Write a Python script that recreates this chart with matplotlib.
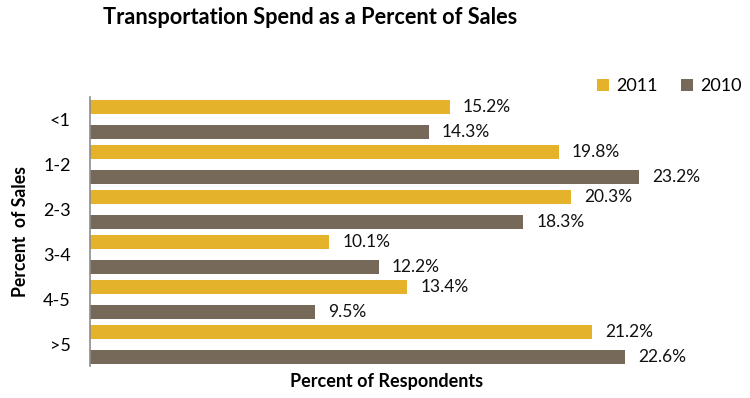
import matplotlib
matplotlib.use("Agg")
import matplotlib.pyplot as plt
import numpy as np
from matplotlib.patches import Patch

categories = ["<1", "1-2", "2-3", "3-4", "4-5", ">5"]
values_2011 = [15.2, 19.8, 20.3, 10.1, 13.4, 21.2]
values_2010 = [14.3, 23.2, 18.3, 12.2, 9.5, 22.6]

GOLD = "#E5B22B"
BROWN = "#776959"
FONT = ["Lato", "DejaVu Sans"]

plt.rcParams["font.family"] = FONT

fig = plt.figure(figsize=(7.5, 3.98), dpi=100)
# axes box in pixels: x 90..730, y 97..366 (from top)
ax = fig.add_axes([90 / 750, 1 - 366 / 398, 640 / 750, 269 / 398])

y = np.arange(len(categories))
off = 25 / 45
h = 14 / 45
ax.barh(y, values_2011, height=h, color=GOLD, label="2011")
ax.barh(y + off, values_2010, height=h, color=BROWN, label="2010")

for yi, v in zip(y, values_2011):
    ax.text(v + 0.55, yi, f"{v:.1f}%", va="center", ha="left", fontsize=12.5, color="#111111")
for yi, v in zip(y + off, values_2010):
    ax.text(v + 0.55, yi, f"{v:.1f}%", va="center", ha="left", fontsize=12.5, color="#111111")

ax.set_xlim(0, 640 / 23.68)
ax.set_ylim(5 + off + (366 - 357) / 45, -10 / 45)
ax.set_yticks(y + off / 2)
ax.set_yticklabels(categories, fontsize=13)
ax.tick_params(axis="y", length=0, pad=14)
ax.set_xticks([])
for s in ["top", "right", "bottom"]:
    ax.spines[s].set_visible(False)
ax.spines["left"].set_color("#8c8c8c")
ax.spines["left"].set_linewidth(1.2)

ax.set_ylabel("Percent  of Sales", fontsize=12.7, fontweight="bold", labelpad=10)
fig.text(387 / 750, 1 - 382 / 398, "Percent of Respondents", ha="center", va="center",
         fontsize=13, fontweight="bold")
fig.text(310 / 750, 1 - 18 / 398, "Transportation Spend as a Percent of Sales", ha="center",
         va="center", fontsize=15.7, fontweight="bold")

handles = [Patch(facecolor=GOLD), Patch(facecolor=BROWN)]
fig.legend(handles, ["2011", "2010"], loc="center right", bbox_to_anchor=(758 / 750, 1 - 86 / 398),
           ncol=2, frameon=False, fontsize=13, handlelength=0.65, handleheight=0.65,
           handletextpad=0.4, columnspacing=1.3)

fig.savefig("out.png", dpi=100)
